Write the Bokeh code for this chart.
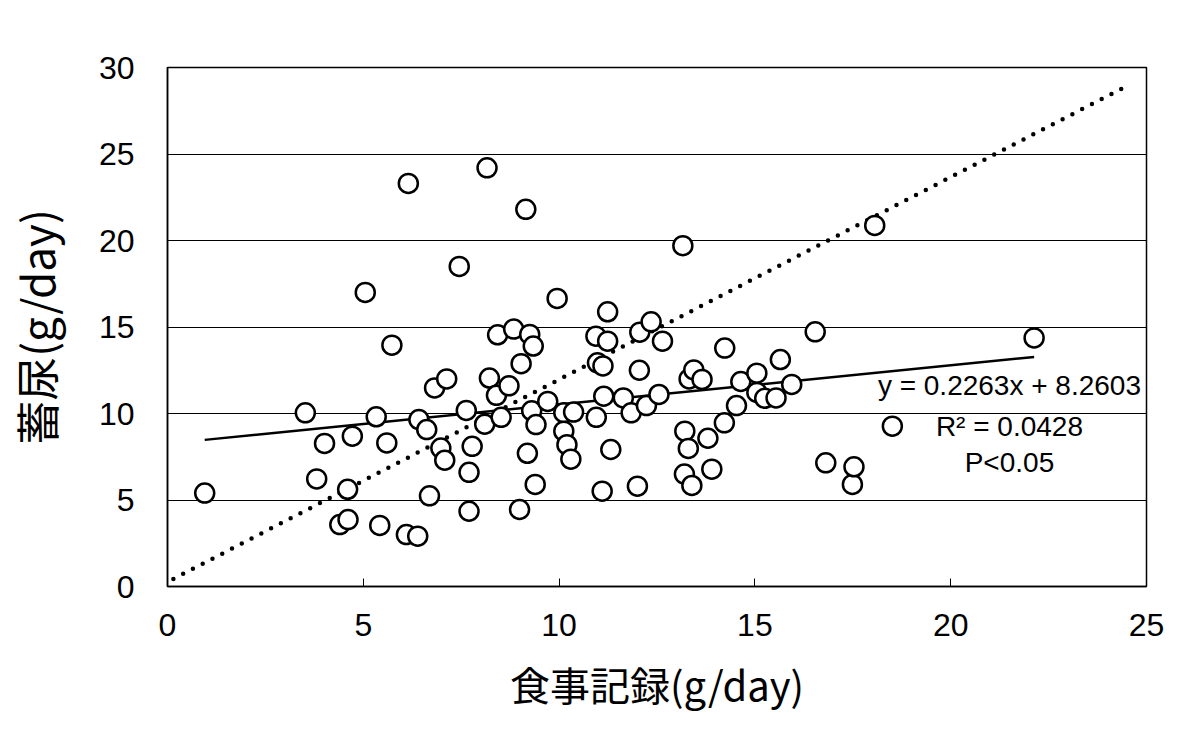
from bokeh.plotting import figure
from bokeh.models import Range1d, FixedTicker, Label
from bokeh.embed import file_html
from bokeh.resources import INLINE

# data
x_vals = [0.95, 3.52, 3.81, 4.01, 4.40, 4.61, 4.60, 4.72, 5.05, 5.33,
          5.42, 5.60, 5.73, 6.10, 6.15, 6.39, 6.42, 6.62, 6.69, 6.82,
          6.98, 7.08, 7.13, 7.45, 7.63, 7.70, 7.70, 7.78, 8.10, 8.16,
          8.22, 8.40, 8.43, 8.52, 8.72, 8.84, 8.99, 9.03, 9.15, 9.19,
          9.25, 9.30, 9.34, 9.39, 9.41, 9.71, 9.95, 10.12, 10.37, 10.12,
          10.20, 10.30, 10.94, 10.95, 10.98, 11.10, 11.12, 11.14, 11.24, 11.24,
          11.32, 11.64, 11.84, 12.00, 12.06, 12.05, 12.23, 12.35, 12.55, 12.64,
          13.16, 13.20, 13.21, 13.30, 13.32, 13.39, 13.44, 13.65, 13.80, 13.90,
          14.22, 14.23, 14.53, 14.64, 15.05, 15.05, 15.25, 15.54, 15.65, 15.94,
          16.54, 16.81, 17.49, 17.53, 18.06, 18.51, 22.13]
y_vals = [5.40, 10.04, 6.22, 8.27, 3.58, 3.87, 5.62, 8.69, 17.00, 9.81,
          3.53, 8.30, 13.95, 3.00, 23.30, 2.91, 9.65, 9.07, 5.24, 11.48,
          8.00, 7.30, 12.00, 18.50, 10.18, 6.60, 4.35, 8.10, 9.38, 24.20,
          12.05, 11.05, 14.55, 9.78, 11.60, 14.88, 4.45, 12.88, 21.80, 7.70,
          14.57, 10.16, 13.90, 5.90, 9.36, 10.70, 16.65, 10.05, 10.08, 8.98,
          8.20, 7.36, 14.47, 9.78, 12.93, 5.51, 12.75, 11.00, 15.88, 14.18,
          7.92, 10.90, 10.04, 5.80, 14.70, 12.50, 10.46, 15.30, 11.10, 14.18,
          19.70, 6.50, 8.98, 7.98, 12.00, 5.84, 12.52, 11.97, 8.57, 6.78,
          9.46, 13.78, 10.46, 11.85, 12.33, 11.22, 10.88, 10.90, 13.12, 11.68,
          14.72, 7.15, 5.90, 6.92, 20.87, 9.27, 14.37]

slope = 0.2263
intercept = 8.2603
fit_x = [min(x_vals), max(x_vals)]
fit_y = [slope * v + intercept for v in fit_x]

ref_x = [0.15, 24.6]
ref_y = [0.44, 29.05]

x_ticks = [0, 5, 10, 15, 20, 25]
y_ticks = [0, 5, 10, 15, 20, 25, 30]

eq_text = "y = 0.2263x + 8.2603"
r2_text = "R\u00b2 = 0.0428"
p_text = "P<0.05"

p = figure(width=1180, height=737, output_backend="svg", toolbar_location=None,
           x_range=Range1d(0, 25), y_range=Range1d(0, 30),
           min_border_left=155, min_border_right=34, min_border_top=67, min_border_bottom=151)

p.background_fill_color = "white"
p.border_fill_color = "white"
p.outline_line_color = "black"
p.outline_line_width = 1.5

p.xgrid.visible = False
p.ygrid.ticker = FixedTicker(ticks=y_ticks)
p.ygrid.grid_line_color = "black"
p.ygrid.grid_line_width = 1.2

p.xaxis.ticker = FixedTicker(ticks=x_ticks)
p.yaxis.ticker = FixedTicker(ticks=y_ticks)
for ax in (p.xaxis[0], p.yaxis[0]):
    ax.axis_line_color = "black"
    ax.axis_line_width = 1.5
    ax.minor_tick_line_color = None
    ax.major_label_text_font = "Liberation Sans"
    ax.major_label_text_font_size = "32px"
    ax.major_label_text_color = "black"
    ax.axis_label_text_font = "Noto Sans CJK JP"
    ax.axis_label_text_font_style = "normal"
    ax.axis_label_text_color = "black"

p.xaxis.major_tick_in = 8
p.xaxis.major_tick_out = 0
p.xaxis.major_tick_line_color = "black"
p.xaxis.major_label_standoff = 27
p.xaxis.axis_label = "食事記録(g/day)"
p.xaxis.axis_label_text_font_size = "40px"
p.xaxis.axis_label_standoff = 16

p.yaxis.major_tick_in = 0
p.yaxis.major_tick_out = 0
p.yaxis.major_label_standoff = 33
p.yaxis.axis_label = "蓄尿(g/day)"
p.yaxis.axis_label_text_font_size = "44px"
p.yaxis.axis_label_standoff = 28

p.line(ref_x, ref_y, line_color="black", line_width=4.5, line_dash="0 11", line_cap="round")
p.line(fit_x, fit_y, line_color="black", line_width=2.5)

p.scatter(x_vals, y_vals, marker="circle", size=19, fill_color="white",
          line_color="black", line_width=2.5)

for txt, yy in ((eq_text, 11.6), (r2_text, 9.25), (p_text, 7.15)):
    p.add_layout(Label(x=21.5, y=yy, text=txt, text_align="center",
                       text_baseline="alphabetic", text_font="Liberation Sans",
                       text_font_size="28px", text_color="black"))

open("out.html", "w").write(file_html(p, INLINE))
